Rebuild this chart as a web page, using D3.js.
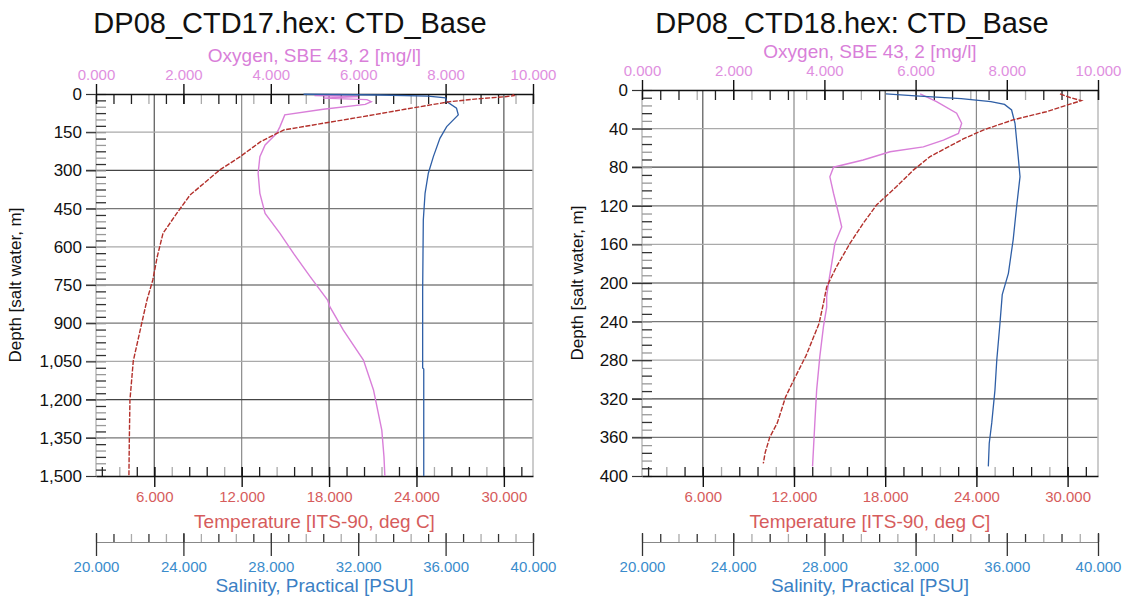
<!DOCTYPE html>
<html>
<head>
<meta charset="utf-8">
<script src="https://cdn.jsdelivr.net/npm/d3@7/dist/d3.min.js"></script>
<style>
  body { margin: 0; background: #fff; }
  svg { display: block; font-family: "Liberation Sans", Arial, sans-serif; }
</style>
</head>
<body>
<div id="chart"></div>
<script>
// axis tick values
const oxygenTicks = [0, 2, 4, 6, 8, 10];
const temperatureTicks = [6, 12, 18, 24, 30];
const salinityTicks = [20, 24, 28, 32, 36, 40];
const depthTicks17 = [0, 150, 300, 450, 600, 750, 900, 1050, 1200, 1350, 1500];
const depthTicks18 = [0, 40, 80, 120, 160, 200, 240, 280, 320, 360, 400];

// CTD17 profiles as [depth m, value]
const ctd17Temperature = [
  [1, 30.6], [6, 30.7], [10, 30.2], [18, 28.4], [30, 26.3], [60, 23.2], [89, 20.3],
  [141, 14.9], [187, 13.3], [246, 11.9], [298, 10.5], [397, 8.45], [469, 7.54],
  [547, 6.6], [640, 6.2], [730, 5.9], [809, 5.5], [900, 5.14], [1048, 4.56],
  [1202, 4.33], [1347, 4.29], [1500, 4.26]
];
const ctd17Oxygen = [
  [2, 5.6], [6, 5.0], [10, 6.0], [16, 5.2], [22, 6.2], [30, 6.3], [41, 6.16],
  [60, 5.2], [82, 4.32], [128, 4.21], [155, 4.13], [200, 3.87], [246, 3.75],
  [311, 3.71], [390, 3.75], [469, 3.87], [547, 4.21], [626, 4.52], [717, 4.9],
  [809, 5.3], [835, 5.35], [927, 5.66], [1045, 6.12], [1162, 6.35], [1320, 6.54],
  [1425, 6.59], [1500, 6.61]
];
const ctd17Salinity = [
  [1, 29.5], [4, 33.0], [8, 35.2], [15, 36.0], [30, 36.05], [56, 36.5], [82, 36.58],
  [128, 36.05], [174, 35.74], [246, 35.44], [311, 35.21], [390, 35.06], [495, 34.98],
  [770, 34.95], [1076, 34.95], [1080, 35.0], [1500, 35.0]
];

// CTD18 profiles as [depth m, value]
const ctd18Temperature = [
  [4, 29.5], [8, 30.2], [11, 30.9], [22.5, 28.6], [31, 26.4], [41.5, 24.45], [51, 23.1],
  [69, 20.95], [83, 19.85], [100, 18.75], [119, 17.44], [138, 16.56], [159, 15.68],
  [183, 14.8], [204, 14.15], [220, 13.95], [242, 13.65], [275, 12.8], [300, 12.0],
  [318, 11.45], [345, 10.9], [360, 10.4], [376, 10.1], [387, 9.98]
];
const ctd18Oxygen = [
  [4, 6.1], [12, 6.46], [24, 6.9], [34.5, 7.01], [45, 6.94], [52, 6.61], [59, 6.17],
  [64, 5.44], [72.5, 4.85], [80, 4.2], [90, 4.12], [107, 4.2], [128, 4.31], [142, 4.38],
  [159, 4.23], [180, 4.16], [200, 4.09], [214, 4.05], [225, 4.05], [245, 3.98],
  [276, 3.9], [311, 3.83], [345, 3.79], [390, 3.74]
];
const ctd18Salinity = [
  [4, 30.7], [6, 32.0], [9, 34.0], [12, 35.3], [15, 35.9], [20.7, 36.21], [34.5, 36.36],
  [51.8, 36.43], [69, 36.5], [89.8, 36.58], [121, 36.43], [155, 36.28], [190, 36.07],
  [212, 35.8], [242, 35.7], [280, 35.56], [311, 35.48], [345, 35.34], [366, 35.23], [390, 35.19]
];

const width = 1133, height = 602;
const svg = d3.select('#chart').append('svg')
  .attr('width', width)
  .attr('height', height)
  .style('background', '#fff');

const fmt3 = d3.format('.3f');
const oxyColor = '#d97fd9', oxyText = '#e08fe0';
const tempColor = '#b3302b', tempText = '#d65c5c';
const salColor = '#2f5fa6', salText = '#3a8ccc', salTitle = '#3b7fc4';

function drawPanel(p) {
  const g = svg.append('g');
  const y = d3.scaleLinear().domain([0, p.depthMax]).range([p.top, p.bottom]);
  const xO = d3.scaleLinear().domain([0, 10]).range([p.left, p.right]);
  const xT = d3.scaleLinear().domain([2, 32]).range([p.left, p.right]);
  const xS = d3.scaleLinear().domain([20, 40]).range([p.left, p.right]);

  // grid
  g.append('g').selectAll('line').data(temperatureTicks).join('line')
    .attr('x1', d => xT(d)).attr('x2', d => xT(d))
    .attr('y1', p.top).attr('y2', p.bottom)
    .attr('stroke', (d, i) => i % 2 ? '#8a8a8a' : '#555').attr('stroke-width', 1.2);
  g.append('g').selectAll('line').data(p.depthTicks.slice(1, -1)).join('line')
    .attr('x1', p.left - 10).attr('x2', p.right)
    .attr('y1', d => y(d)).attr('y2', d => y(d))
    .attr('stroke', (d, i) => ['#aaa', '#444', '#777'][i % 3]).attr('stroke-width', 1.2);

  // frame left / right
  g.append('line').attr('x1', p.left).attr('x2', p.left).attr('y1', p.top).attr('y2', p.bottom)
    .attr('stroke', '#999');
  g.append('line').attr('x1', p.right).attr('x2', p.right).attr('y1', p.top).attr('y2', p.bottom)
    .attr('stroke', '#bbb').attr('stroke-width', 1.5);

  // depth axis
  const minorDepth = d3.range(0, p.depthMax + 0.001, p.depthStep);
  g.append('g').attr('transform', `translate(${p.left},0)`)
    .call(d3.axisLeft(y).tickValues(minorDepth).tickSize(-10).tickFormat(''))
    .call(a => a.select('.domain').remove())
    .call(a => a.selectAll('line').attr('stroke', (d, i) => i % 2 ? '#333' : '#999').attr('stroke-width', 1.3));
  g.append('g').attr('transform', `translate(${p.left},0)`)
    .call(d3.axisLeft(y).tickValues(p.depthTicks).tickSize(10).tickPadding(4).tickFormat(d3.format(',')))
    .call(a => a.select('.domain').remove())
    .call(a => a.selectAll('line').attr('stroke', '#333').attr('stroke-width', 1.2))
    .call(a => a.selectAll('text').attr('font-size', 17).attr('fill', '#111')
      .attr('font-family', '"Liberation Sans", Arial, sans-serif'));

  g.append('text')
    .attr('transform', `translate(${p.depthTitleX},${(p.top + p.bottom) / 2}) rotate(-90)`)
    .attr('text-anchor', 'middle').attr('font-size', 17).attr('fill', '#111')
    .text('Depth [salt water, m]');

  // oxygen axis (top)
  g.append('g').attr('transform', `translate(0,${p.top})`)
    .call(d3.axisTop(xO).tickValues(d3.range(0, 10.001, 0.4)).tickSize(-10).tickSizeOuter(0).tickFormat(''))
    .call(a => a.select('.domain').remove())
    .call(a => a.selectAll('line').attr('stroke', (d, i) => i % 3 ? '#222' : '#aaa').attr('stroke-width', 1.3));
  g.append('g').attr('transform', `translate(0,${p.top})`)
    .call(d3.axisTop(xO).tickValues(oxygenTicks).tickSize(10).tickSizeOuter(0).tickFormat(fmt3))
    .call(a => a.select('.domain').attr('stroke', '#111').attr('stroke-width', 1.6))
    .call(a => a.selectAll('line').attr('stroke', '#111').attr('stroke-width', 1.4).attr('y1', 10))
    .call(a => a.selectAll('text').attr('y', -14).attr('dy', null).attr('font-size', 15)
      .attr('fill', oxyText).attr('font-family', '"Liberation Sans", Arial, sans-serif'));
  g.append('text').attr('x', (p.left + p.right) / 2).attr('y', p.top - 32)
    .attr('text-anchor', 'middle').attr('font-size', 19).attr('fill', oxyColor)
    .text('Oxygen, SBE 43, 2 [mg/l]');

  // temperature axis (bottom)
  const minorT = d3.range(-3, 22).map(k => 6 + k * 1.2);
  g.append('g').attr('transform', `translate(0,${p.bottom})`)
    .call(d3.axisBottom(xT).tickValues(minorT).tickSize(-9).tickSizeOuter(0).tickFormat(''))
    .call(a => a.select('.domain').remove())
    .call(a => a.selectAll('line').attr('stroke', (d, i) => i % 3 === 1 ? '#aaa' : '#222').attr('stroke-width', 1.3));
  g.append('g').attr('transform', `translate(0,${p.bottom})`)
    .call(d3.axisBottom(xT).tickValues(temperatureTicks).tickSize(11).tickSizeOuter(0).tickFormat(fmt3))
    .call(a => a.select('.domain').attr('stroke', '#111').attr('stroke-width', 1.6))
    .call(a => a.selectAll('line').attr('stroke', '#111').attr('stroke-width', 1.4).attr('y1', -9))
    .call(a => a.selectAll('text').attr('y', 26).attr('dy', null).attr('font-size', 15)
      .attr('fill', tempText).attr('font-family', '"Liberation Sans", Arial, sans-serif'));
  g.append('text').attr('x', (p.left + p.right) / 2).attr('y', p.bottom + 52)
    .attr('text-anchor', 'middle').attr('font-size', 19).attr('fill', tempText)
    .text('Temperature [ITS-90, deg C]');

  // salinity axis (separate, below)
  const sy = p.bottom + 66;
  g.append('g').attr('transform', `translate(0,${sy})`)
    .call(d3.axisBottom(xS).tickValues(d3.range(0, 26).map(k => 20 + k * 0.8)).tickSize(-8).tickSizeOuter(0).tickFormat(''))
    .call(a => a.select('.domain').attr('stroke', '#888').attr('stroke-width', 1.2))
    .call(a => a.selectAll('line').attr('stroke', (d, i) => i % 2 ? '#333' : '#aaa').attr('stroke-width', 1.3));
  g.append('g').attr('transform', `translate(0,${sy})`)
    .call(d3.axisBottom(xS).tickValues(salinityTicks).tickSize(14).tickSizeOuter(0).tickFormat(fmt3))
    .call(a => a.select('.domain').remove())
    .call(a => a.selectAll('line').attr('stroke', '#333').attr('stroke-width', 1.3).attr('y1', -9))
    .call(a => a.selectAll('text').attr('y', 30).attr('dy', null).attr('font-size', 15)
      .attr('fill', salText).attr('font-family', '"Liberation Sans", Arial, sans-serif'));
  g.append('text').attr('x', (p.left + p.right) / 2).attr('y', sy + 50)
    .attr('text-anchor', 'middle').attr('font-size', 19).attr('fill', salTitle)
    .text('Salinity, Practical [PSU]');

  // title
  g.append('text').attr('x', p.titleX).attr('y', 33)
    .attr('text-anchor', 'middle').attr('font-size', 29).attr('fill', '#111')
    .text(p.title);

  // profiles
  const plot = g.append('g');
  const line = xs => d3.line().x(d => xs(d[1])).y(d => y(d[0]));
  plot.append('path').datum(p.oxygen).attr('d', line(xO))
    .attr('fill', 'none').attr('stroke', oxyColor).attr('stroke-width', 1.4);
  plot.append('path').datum(p.salinity).attr('d', line(xS))
    .attr('fill', 'none').attr('stroke', salColor).attr('stroke-width', 1.3);
  plot.append('path').datum(p.temperature).attr('d', line(xT))
    .attr('fill', 'none').attr('stroke', tempColor).attr('stroke-width', 1.4)
    .attr('stroke-dasharray', '5,1.5');
}

drawPanel({
  left: 96, right: 533, top: 94, bottom: 476,
  depthMax: 1500, depthTicks: depthTicks17, depthStep: 25, depthTitleX: 21,
  title: 'DP08_CTD17.hex: CTD_Base', titleX: 290,
  temperature: ctd17Temperature, oxygen: ctd17Oxygen, salinity: ctd17Salinity
});

drawPanel({
  left: 642, right: 1098, top: 90, bottom: 476,
  depthMax: 400, depthTicks: depthTicks18, depthStep: 8, depthTitleX: 583,
  title: 'DP08_CTD18.hex: CTD_Base', titleX: 852,
  temperature: ctd18Temperature, oxygen: ctd18Oxygen, salinity: ctd18Salinity
});
</script>
</body>
</html>
